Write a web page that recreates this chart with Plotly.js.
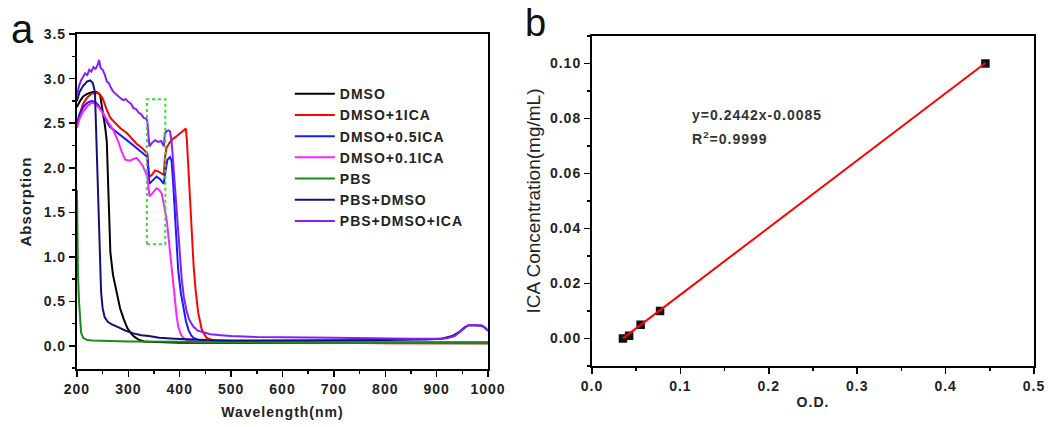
<!DOCTYPE html>
<html>
<head>
<meta charset="utf-8">
<script src="https://cdn.plot.ly/plotly-3.0.1.min.js"></script>
<style>
  html, body { margin: 0; padding: 0; background: #fff; }
  #chart { width: 1050px; height: 427px; }
  .legendtext, .xtick text, .ytick text, .x2tick text, .y2tick text,
  .g-xtitle text, .g-ytitle text, .g-x2title text, .annotation-text { letter-spacing: 1px; }
  .g-y2title text { letter-spacing: 0px; }
</style>
</head>
<body>
<div id="chart"></div>
<script>
// ---------- Panel a: UV-Vis absorption spectra ----------
const seriesNames = ["DMSO", "DMSO+1ICA", "DMSO+0.5ICA", "DMSO+0.1ICA", "PBS", "PBS+DMSO", "PBS+DMSO+ICA"];

const dmsoX = [200, 205, 212, 220, 230, 238, 245, 251, 255, 258, 262, 265, 270, 277, 284, 291, 298, 305, 312, 320, 330, 340, 360, 400, 500, 600, 700, 800, 900, 1000];
const dmsoY = [2.68, 2.74, 2.80, 2.83, 2.85, 2.85, 2.82, 2.62, 2.45, 2.30, 1.60, 1.05, 0.80, 0.60, 0.42, 0.30, 0.20, 0.14, 0.10, 0.07, 0.05, 0.045, 0.04, 0.035, 0.035, 0.035, 0.03, 0.03, 0.03, 0.03];

const ica1X = [200, 205, 212, 220, 228, 235, 242, 250, 258, 265, 275, 285, 297, 307, 316, 327, 337, 339, 341, 346, 352, 358, 364, 369, 371, 374, 380, 386, 395, 403, 412, 414, 417, 420, 423, 427, 431, 436, 443, 452, 465, 480, 520, 600, 700, 800, 900, 1000];
const ica1Y = [2.45, 2.60, 2.72, 2.79, 2.83, 2.84, 2.84, 2.78, 2.65, 2.56, 2.50, 2.44, 2.39, 2.33, 2.27, 2.22, 2.16, 2.00, 1.90, 1.92, 1.97, 1.96, 1.94, 1.92, 2.10, 2.22, 2.28, 2.32, 2.36, 2.40, 2.44, 2.30, 1.97, 1.60, 1.23, 0.90, 0.62, 0.37, 0.18, 0.09, 0.06, 0.05, 0.045, 0.04, 0.035, 0.03, 0.03, 0.03];

const ica05X = [200, 205, 212, 220, 228, 235, 242, 250, 258, 264, 275, 285, 297, 310, 322, 337, 339, 341, 346, 355, 362, 369, 372, 376, 381, 384, 387, 391, 397, 402, 407, 412, 417, 422, 427, 435, 450, 500, 600, 700, 800, 900, 1000];
const ica05Y = [2.50, 2.60, 2.68, 2.73, 2.75, 2.74, 2.70, 2.62, 2.52, 2.46, 2.41, 2.36, 2.31, 2.25, 2.19, 2.12, 1.95, 1.82, 1.85, 1.90, 1.87, 1.82, 1.95, 2.09, 2.12, 2.08, 1.85, 1.41, 0.85, 0.60, 0.44, 0.28, 0.18, 0.12, 0.09, 0.07, 0.06, 0.05, 0.045, 0.04, 0.04, 0.04, 0.04];

const ica01X = [200, 205, 212, 220, 228, 235, 242, 251, 260, 271, 280, 287, 294, 303, 310, 316, 322, 328, 337, 339, 341, 348, 355, 360, 365, 371, 375, 378, 381, 384, 388, 391, 394, 397, 402, 407, 415, 430, 500, 600, 700, 800, 900, 1000];
const ica01Y = [2.45, 2.55, 2.63, 2.69, 2.73, 2.72, 2.68, 2.61, 2.52, 2.42, 2.30, 2.18, 2.09, 2.08, 2.10, 2.11, 2.07, 2.02, 1.90, 1.75, 1.68, 1.72, 1.77, 1.75, 1.71, 1.53, 1.40, 1.23, 1.05, 0.85, 0.65, 0.48, 0.33, 0.22, 0.13, 0.09, 0.06, 0.05, 0.045, 0.04, 0.04, 0.04, 0.04, 0.04];

const pbsX = [200, 201, 202, 204, 206, 208, 212, 220, 230, 260, 300, 400, 500, 600, 700, 800, 900, 1000];
const pbsY = [1.75, 1.20, 0.80, 0.50, 0.30, 0.15, 0.09, 0.065, 0.06, 0.055, 0.05, 0.045, 0.04, 0.04, 0.035, 0.035, 0.035, 0.035];

const pbsDmsoX = [200, 205, 212, 220, 226, 231, 235, 238, 241, 244, 247, 250, 254, 260, 268, 280, 295, 310, 325, 340, 360, 390, 420, 450, 500, 600, 700, 800, 880, 910, 930, 945, 955, 962, 975, 988, 995, 1000];
const pbsDmsoY = [2.75, 2.85, 2.92, 2.97, 2.98, 2.95, 2.85, 2.30, 1.50, 0.95, 0.60, 0.42, 0.32, 0.27, 0.24, 0.21, 0.17, 0.14, 0.12, 0.11, 0.09, 0.08, 0.07, 0.065, 0.06, 0.06, 0.06, 0.065, 0.07, 0.08, 0.11, 0.16, 0.21, 0.23, 0.23, 0.225, 0.2, 0.17];

const pbsDmsoIcaX = [200, 204, 208, 212, 216, 220, 224, 228, 232, 236, 240, 243, 246, 250, 254, 258, 262, 266, 270, 275, 280, 285, 290, 295, 300, 305, 310, 315, 320, 325, 330, 335, 337, 339, 341, 346, 352, 358, 364, 369, 371, 374, 378, 381, 384, 386, 388, 391, 394, 397, 400, 404, 408, 413, 418, 426, 435, 446, 460, 480, 500, 550, 600, 650, 700, 750, 800, 850, 900, 920, 935, 945, 955, 962, 975, 988, 995, 1000];
const pbsDmsoIcaY = [2.80, 2.92, 2.98, 3.03, 3.06, 3.04, 3.10, 3.08, 3.13, 3.11, 3.15, 3.21, 3.12, 3.10, 3.05, 2.97, 2.95, 2.90, 2.86, 2.83, 2.80, 2.78, 2.76, 2.77, 2.74, 2.72, 2.67, 2.66, 2.62, 2.60, 2.56, 2.55, 2.52, 2.35, 2.24, 2.28, 2.31, 2.29, 2.30, 2.24, 2.38, 2.41, 2.42, 2.41, 2.30, 2.16, 2.00, 1.79, 1.50, 1.23, 1.00, 0.74, 0.55, 0.40, 0.30, 0.22, 0.17, 0.15, 0.13, 0.12, 0.11, 0.10, 0.10, 0.095, 0.09, 0.085, 0.085, 0.08, 0.08, 0.085, 0.11, 0.16, 0.21, 0.235, 0.235, 0.23, 0.20, 0.17];

// ---------- Panel b: calibration ----------
const odValues = [0.035, 0.042, 0.055, 0.077, 0.445];
const concValues = [0.000, 0.001, 0.005, 0.010, 0.100];
const fitSlope = 0.2442;
const fitIntercept = -0.0085;
const fitX = [Math.min(...odValues), Math.max(...odValues)];
const fitY = fitX.map(v => fitSlope * v + fitIntercept);

const FONT = "Arial, 'Liberation Sans', sans-serif";
const colors = ["#000000", "#ff0000", "#1a1aff", "#ff20ff", "#1a8a1a", "#10107a", "#8020ff"];
const xs = [dmsoX, ica1X, ica05X, ica01X, pbsX, pbsDmsoX, pbsDmsoIcaX];
const ys = [dmsoY, ica1Y, ica05Y, ica01Y, pbsY, pbsDmsoY, pbsDmsoIcaY];

const traces = seriesNames.map((name, i) => ({
  type: "scatter", mode: "lines", name: name,
  x: xs[i], y: ys[i],
  line: { color: colors[i], width: 2 },
  xaxis: "x", yaxis: "y"
}));

traces.push({
  type: "scatter", mode: "markers", x: odValues, y: concValues,
  marker: { symbol: "square", size: 8.5, color: "#111111" },
  xaxis: "x2", yaxis: "y2", showlegend: false
});
traces.push({
  type: "scatter", mode: "lines", x: fitX, y: fitY,
  line: { color: "#ff0000", width: 2 },
  xaxis: "x2", yaxis: "y2", showlegend: false
});

const tickFont = { family: FONT, size: 14, color: "#222", weight: "bold" };
const axisBase = {
  showline: true, linecolor: "#000", linewidth: 2, mirror: true,
  ticks: "outside", ticklen: 6, tickwidth: 1.5, tickcolor: "#000",
  showgrid: false, zeroline: false, automargin: false,
  tickfont: tickFont
};

const layout = {
  width: 1050, height: 427,
  margin: { l: 0, r: 0, t: 0, b: 0 },
  paper_bgcolor: "#fff", plot_bgcolor: "#fff",
  font: { family: FONT, color: "#222" },
  showlegend: true,
  legend: {
    x: 0.276, y: 0.817, xanchor: "left", yanchor: "top",
    bgcolor: "rgba(0,0,0,0)", borderwidth: 0,
    font: { family: FONT, size: 14, color: "#222", weight: "bold" },
    itemwidth: 40, tracegroupgap: 0
  },
  xaxis: Object.assign({}, axisBase, {
    domain: [0.0733, 0.4648], anchor: "y",
    range: [200, 1000], tick0: 200, dtick: 100,
    minor: { dtick: 50, ticklen: 3, tickwidth: 1.5, tickcolor: "#000", ticks: "outside" },
    title: { text: "Wavelength(nm)", standoff: 11, font: { family: FONT, size: 14, color: "#222", weight: "bold" } }
  }),
  yaxis: Object.assign({}, axisBase, {
    domain: [0.1358, 0.920], anchor: "x",
    range: [-0.26, 3.5], tick0: 0, dtick: 0.5, tickformat: ".1f",
    minor: { dtick: 0.25, ticklen: 3, tickwidth: 1.5, tickcolor: "#000", ticks: "outside" },
    title: { text: "Absorption", standoff: 8, font: { family: FONT, size: 15, color: "#222", weight: "bold" } }
  }),
  xaxis2: Object.assign({}, axisBase, {
    domain: [0.5638, 0.9848], anchor: "y2",
    range: [0, 0.5], tick0: 0, dtick: 0.1, tickformat: ".1f",
    minor: { dtick: 0.05, ticklen: 3, tickwidth: 1.5, tickcolor: "#000", ticks: "outside" },
    title: { text: "O.D.", standoff: 4, font: { family: FONT, size: 14, color: "#222", weight: "bold" } }
  }),
  yaxis2: Object.assign({}, axisBase, {
    domain: [0.1429, 0.9157], anchor: "x2",
    range: [-0.01, 0.11], tick0: 0, dtick: 0.02, tickformat: ".2f",
    minor: { dtick: 0.01, ticklen: 3, tickwidth: 1.5, tickcolor: "#000", ticks: "outside" },
    title: { text: "ICA Concentration(mg/mL)", standoff: 4, font: { family: FONT, size: 19, color: "#222" } }
  }),
  shapes: [{
    type: "rect", xref: "x", yref: "y",
    x0: 336, x1: 372, y0: 1.14, y1: 2.77,
    line: { color: "#33dd33", width: 2, dash: "dot" },
    fillcolor: "rgba(0,0,0,0)"
  }],
  annotations: [
    { text: "a", xref: "paper", yref: "paper", x: 0.009, y: 0.933, xanchor: "left", yanchor: "middle",
      showarrow: false, font: { family: FONT, size: 40, color: "#111" } },
    { text: "b", xref: "paper", yref: "paper", x: 0.498, y: 0.945, xanchor: "left", yanchor: "middle",
      showarrow: false, font: { family: FONT, size: 38, color: "#111" } },
    { text: "y=0.2442x-0.0085", xref: "paper", yref: "paper", x: 690 / 1050, y: 1 - 115 / 427,
      xanchor: "left", yanchor: "middle", showarrow: false,
      font: { family: FONT, size: 14, color: "#333", weight: "bold" } },
    { text: "R<sup>2</sup>=0.9999", xref: "paper", yref: "paper", x: 690 / 1050, y: 1 - 138 / 427,
      xanchor: "left", yanchor: "middle", showarrow: false,
      font: { family: FONT, size: 14, color: "#333", weight: "bold" } }
  ]
};

Plotly.newPlot("chart", traces, layout, { displayModeBar: false, staticPlot: true });
</script>
</body>
</html>
